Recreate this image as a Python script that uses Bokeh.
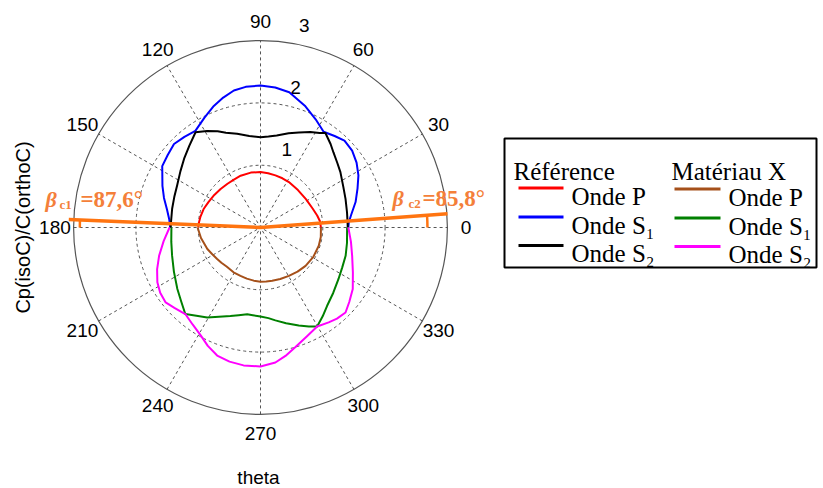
import numpy as np
from bokeh.plotting import figure
from bokeh.models import Range1d
from bokeh.core.properties import value
from bokeh.embed import file_html
from bokeh.resources import INLINE

# ---------------- data (polar: angle in degrees, ratio) ----------------
ref_p_theta = [0, 6, 12, 20, 32, 45, 58, 66, 74, 82, 90, 100, 111, 119, 127, 136, 146, 154, 162, 170, 175, 180]
ref_p_r = [0.97, 0.96, 0.93, 0.89, 0.86, 0.85, 0.86, 0.865, 0.87, 0.88, 0.89, 0.895, 0.89, 0.88, 0.88, 0.89,
           0.91, 0.93, 0.96, 0.98, 0.99, 1.00]

ref_s1_theta = [0, 3.4, 8, 15, 22, 28, 34, 40, 46, 51, 56.6, 63, 70, 78, 84, 90, 96, 101, 106, 111, 117,
                124, 130, 136, 142, 148, 157, 163, 169, 175, 180]
ref_s1_r = [1.41, 1.42, 1.47, 1.58, 1.68, 1.78, 1.86, 1.92, 1.94, 1.89, 1.84, 1.95, 2.08, 2.22, 2.26, 2.28,
            2.27, 2.24, 2.17, 2.09, 1.98, 1.87, 1.90, 1.93, 1.89, 1.86, 1.71, 1.62, 1.53, 1.47, 1.45]

ref_s2_theta = [0, 3.5, 10, 18.6, 26, 34.7, 40, 45.8, 50, 55.5, 58, 62.5, 68, 73.4, 80, 85, 90, 97, 104,
                110, 114, 119, 124.3, 131, 138, 145, 153, 160, 168, 177.6, 180]
ref_s2_r = [1.40, 1.40, 1.41, 1.44, 1.48, 1.56, 1.61, 1.68, 1.75, 1.84, 1.79, 1.73, 1.645, 1.58, 1.50, 1.465,
            1.45, 1.48, 1.55, 1.62, 1.69, 1.77, 1.85, 1.74, 1.65, 1.57, 1.50, 1.47, 1.45, 1.44, 1.44]

x_p_theta = [180, 190, 202, 209, 216, 222, 229, 239, 247.5, 255, 262.8, 270, 276, 282.4, 291, 300.4, 310,
             319.6, 331, 342.6, 351, 360]
x_p_r = [1.01, 0.97, 0.92, 0.885, 0.86, 0.845, 0.83, 0.84, 0.84, 0.85, 0.86, 0.87, 0.872, 0.875, 0.885, 0.90,
         0.925, 0.95, 0.97, 0.98, 0.98, 0.97]

x_s1_theta = [180, 189, 197.8, 207, 216.5, 223, 229, 234, 239.4, 245, 251.2, 256, 261.3, 265, 270, 275, 279.1,
              285, 291.3, 296, 299.8, 305, 310.4, 318, 326.6, 334, 341.6, 350, 360]
x_s1_r = [1.43, 1.45, 1.49, 1.56, 1.66, 1.74, 1.84, 1.75, 1.68, 1.58, 1.50, 1.45, 1.41, 1.415, 1.43, 1.46, 1.51,
          1.59, 1.69, 1.77, 1.83, 1.74, 1.65, 1.57, 1.50, 1.46, 1.44, 1.41, 1.39]

x_s2_theta = [180, 188, 195.6, 202, 208, 213, 218.3, 223, 229, 235, 241, 246, 251.3, 257, 263, 270, 276.3, 281,
              286.3, 293, 299.8, 305.7, 310, 315, 320, 326.3, 334, 342.8, 351, 360]
x_s2_r = [1.46, 1.57, 1.69, 1.79, 1.875, 1.92, 1.94, 1.89, 1.84, 1.90, 1.98, 2.08, 2.17, 2.21, 2.23, 2.23, 2.18,
          2.10, 2.00, 1.90, 1.83, 1.875, 1.91, 1.93, 1.86, 1.78, 1.65, 1.54, 1.47, 1.41]

beta_c1 = 87.6
beta_c2 = 85.8
beta_len = [3.08, 3.01]

ring_values = [1, 2, 3]
spoke_angles = [0, 30, 60, 90, 120, 150]
angle_ticks = [0, 30, 60, 90, 120, 150, 180, 210, 240, 270, 300, 330]
angle_labels = [str(a) for a in angle_ticks]

ref_labels = ["Onde P", "Onde S\u2081", "Onde S\u2082"]
x_labels = ["Onde P", "Onde S\u2081", "Onde S\u2082"]
ref_colors = ["#FF0000", "#0000FF", "#000000"]
x_colors = ["#A5501A", "#008000", "#FF00FF"]

# ---------------- layout (page pixels) ----------------
W, H = 823, 488
S = 62.3          # pixels per unit
CX, CY = 260, 227  # page position of polar centre


def dx(px):
    return (px - CX) / S


def dy(py):
    return (CY - py) / S


def pol(th, r):
    t = np.radians(np.asarray(th, dtype=float))
    r = np.asarray(r, dtype=float)
    return r * np.cos(t), r * np.sin(t)


p = figure(width=W, height=H, output_backend="svg", toolbar_location=None,
           x_range=Range1d(dx(0), dx(W)), y_range=Range1d(dy(H), dy(0)),
           min_border=0, outline_line_color=None)
p.axis.visible = False
p.grid.visible = False
p.xaxis.visible = False
p.yaxis.visible = False

SANS = value("Liberation Sans")
SERIF = value("Liberation Serif")

# grid: spokes
sa = np.radians(spoke_angles)
R = ring_values[-1]
p.segment(x0=-R * np.cos(sa), y0=-R * np.sin(sa), x1=R * np.cos(sa), y1=R * np.sin(sa),
          line_color="#555555", line_width=1, line_dash="3 3")
# rings
p.circle(x=[0] * 2, y=[0] * 2, radius=ring_values[:2], fill_alpha=0,
         line_color="#555555", line_width=1, line_dash="3 3")
p.circle(x=[0], y=[0], radius=[ring_values[-1]], fill_alpha=0,
         line_color="#555555", line_width=1.2)

# angle labels
ax_, ay_ = pol(angle_ticks, [R * 1.1] * len(angle_ticks))
p.text(x=ax_, y=ay_, text=angle_labels, text_font=SANS, text_font_size="19px",
       text_align="center", text_baseline="middle", text_color="#000000")
# radial labels
c82 = np.cos(np.radians(82))
s82 = np.sin(np.radians(82))
rv = np.array(ring_values, dtype=float) + 0.05
p.text(x=rv * c82, y=rv * s82, text=[str(v) for v in ring_values], text_font=SANS,
       text_font_size="19px", text_align="left", text_baseline="bottom",
       x_offset=12, y_offset=-7)

# curves
for th, rr, col in [(ref_p_theta, ref_p_r, ref_colors[0]),
                    (ref_s1_theta, ref_s1_r, ref_colors[1]),
                    (ref_s2_theta, ref_s2_r, ref_colors[2]),
                    (x_p_theta, x_p_r, x_colors[0]),
                    (x_s1_theta, x_s1_r, x_colors[1]),
                    (x_s2_theta, x_s2_r, x_colors[2])]:
    xx, yy = pol(th, rr)
    p.line(xx, yy, line_color=col, line_width=2, line_join="round")

# orange critical-angle line
ORANGE = "#FF7410"
a1 = 90 + beta_c1
a2 = 90 - beta_c2
ox, oy = pol([a1, 0, a2], [beta_len[0], 0, beta_len[1]])
p.line(ox, oy, line_color=ORANGE, line_width=3.5)
p.arc(x=[0], y=[0], radius=[2.9], start_angle=np.radians(a1), end_angle=np.pi,
      line_color=ORANGE, line_width=2.5)
p.arc(x=[0], y=[0], radius=[2.68], start_angle=0, end_angle=np.radians(a2),
      line_color=ORANGE, line_width=2.5)

TXT_OR = "#F47F3A"
p.text(x=[dx(45), dx(392)], y=[dy(199), dy(198)], text=["\u03b2", "\u03b2"],
       text_font=SERIF, text_font_size="22px", text_font_style="bold italic",
       text_color=TXT_OR, text_baseline="alphabetic")
p.text(x=[dx(59), dx(408)], y=[dy(204), dy(203)], text=["c1", "c2"],
       text_font=SERIF, text_font_size="13px", text_font_style="bold",
       text_color=TXT_OR, text_baseline="alphabetic")
p.text(x=[dx(80), dx(422)], y=[dy(199), dy(198)],
       text=["=%s\u00b0" % str(beta_c1).replace(".", ","), "=%s\u00b0" % str(beta_c2).replace(".", ",")],
       text_font=SERIF, text_font_size="23px", text_font_style="bold",
       text_color=TXT_OR, text_baseline="alphabetic")

# axis labels
p.text(x=[dx(22)], y=[dy(227)], text=["Cp(isoC)/C(orthoC)"], angle=np.pi / 2,
       text_font=SANS, text_font_size="20px", text_align="center", text_baseline="middle")
p.text(x=[dx(258)], y=[dy(477)], text=["theta"], text_font=SANS, text_font_size="19px",
       text_align="center", text_baseline="middle")

# legend (drawn manually)
p.quad(left=[dx(504)], right=[dx(816)], top=[dy(138)], bottom=[dy(267)],
       fill_color="#FFFFFF", line_color="#000000", line_width=2)
p.text(x=[dx(513), dx(671)], y=[dy(171), dy(171)], text=["Référence", "Matériau X"],
       text_font=SERIF, text_font_size="25px", text_baseline="alphabetic")
row_line_y = [187.5, 216.5, 245]
row_base_y = [196, 224.5, 253]
p.segment(x0=[dx(518)] * 3, x1=[dx(563)] * 3, y0=[dy(v) for v in row_line_y],
          y1=[dy(v) for v in row_line_y], line_color=ref_colors, line_width=3)
p.segment(x0=[dx(674)] * 3, x1=[dx(720)] * 3, y0=[dy(v + 1) for v in row_line_y],
          y1=[dy(v + 1) for v in row_line_y], line_color=x_colors, line_width=3)
p.text(x=[dx(571)] * 3, y=[dy(v) for v in row_base_y], text=ref_labels,
       text_font=SERIF, text_font_size="25px", text_baseline="alphabetic")
p.text(x=[dx(728)] * 3, y=[dy(v + 1) for v in row_base_y], text=x_labels,
       text_font=SERIF, text_font_size="25px", text_baseline="alphabetic")

open("out.html", "w").write(file_html(p, INLINE))
